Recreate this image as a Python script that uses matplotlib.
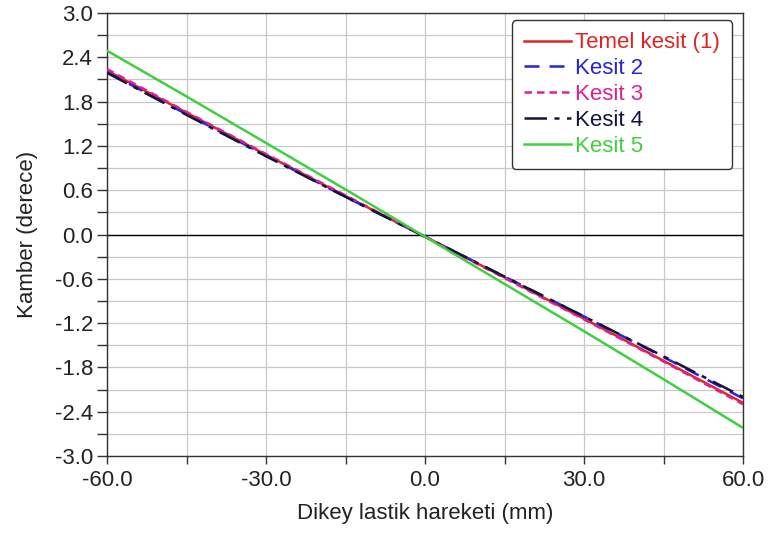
import matplotlib
matplotlib.use("Agg")
import matplotlib.pyplot as plt
import numpy as np
from matplotlib.ticker import MultipleLocator, FuncFormatter

plt.rcParams['font.family'] = ['Liberation Sans', 'DejaVu Sans']

# vertical wheel travel (mm)
travel = [-60, -45, -30, -15, 0, 15, 30, 45, 60]

# camber (deg) per section
temel = [2.22, 1.65, 1.08, 0.52, -0.03, -0.58, -1.14, -1.71, -2.28]
kesit2 = [2.20, 1.63, 1.07, 0.51, -0.03, -0.57, -1.11, -1.66, -2.22]
kesit3 = [2.24, 1.66, 1.09, 0.53, -0.03, -0.59, -1.15, -1.72, -2.30]
kesit4 = [2.19, 1.62, 1.06, 0.51, -0.03, -0.57, -1.11, -1.65, -2.20]
kesit5 = [2.49, 1.87, 1.24, 0.61, -0.03, -0.67, -1.31, -1.96, -2.62]

labels = ["Temel kesit (1)", "Kesit 2", "Kesit 3", "Kesit 4", "Kesit 5"]
colors = ["#e02424", "#2424d8", "#e0208c", "#141440", "#3ed03e"]
dashes = [(None, None), (6, 4), (3, 2), (9, 3, 2, 3), (None, None)]

fig = plt.figure(figsize=(7.71, 5.36), dpi=100)
ax = fig.add_axes([0.1388, 0.1493, 0.8249, 0.8264])

series = [temel, kesit2, kesit3, kesit4, kesit5]
for vals, lab, col, d in zip(series, labels, colors, dashes):
    ln, = ax.plot(travel, vals, color=col, lw=1.8, label=lab, zorder=3)
    if d[0] is not None:
        ln.set_dashes(d)

ax.axhline(0, color="black", lw=1.0, zorder=2)

ax.set_xlim(-60, 60)
ax.set_ylim(-3.0, 3.0)
ax.xaxis.set_major_locator(MultipleLocator(30))
ax.xaxis.set_minor_locator(MultipleLocator(15))
ax.yaxis.set_major_locator(MultipleLocator(0.6))
ax.yaxis.set_minor_locator(MultipleLocator(0.3))
fmt = FuncFormatter(lambda v, p: "%.1f" % (0.0 if abs(v) < 1e-9 else v))
ax.xaxis.set_major_formatter(fmt)
ax.yaxis.set_major_formatter(fmt)

ax.grid(True, which="both", color="#c8c8c8", lw=0.9, zorder=0)
ax.set_axisbelow(True)
ax.tick_params(which="both", direction="out", width=1, color="#333333",
               labelsize=16, labelcolor="#222222", top=False, right=False)
ax.tick_params(axis="x", which="both", length=6, pad=4)
ax.tick_params(axis="y", which="both", length=7, pad=3)
for s in ax.spines.values():
    s.set_color("#333333")
    s.set_linewidth(1.0)

ax.set_xlabel("Dikey lastik hareketi (mm)", fontsize=16, color="#222222", labelpad=9)
ax.set_ylabel("Kamber (derece)", fontsize=16, color="#222222", labelpad=12)

leg = ax.legend(loc="upper right", fontsize=16, frameon=True, fancybox=True,
                edgecolor="#333333", framealpha=1, handlelength=2.1,
                handletextpad=0.2, labelspacing=0.22, borderpad=0.55,
                borderaxespad=0, bbox_to_anchor=(0.983, 0.984))
for txt, col in zip(leg.get_texts(), colors):
    txt.set_color(col)

fig.savefig("out.png", dpi=100)
